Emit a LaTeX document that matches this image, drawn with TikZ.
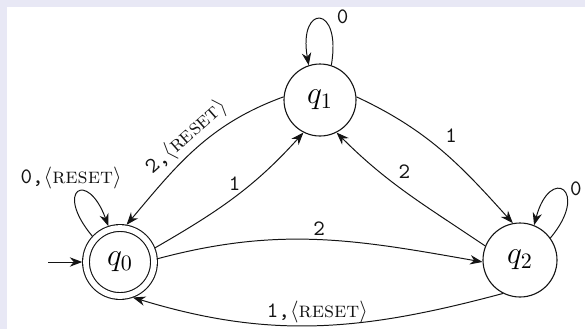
\documentclass[tikz,border=0pt]{standalone}
\usepackage{tikz}
\usetikzlibrary{arrows.meta, positioning, calc}
\definecolor{framelav}{HTML}{E8E8F5}
\definecolor{inkdark}{HTML}{141414}
\tikzset{
  stnode/.style={circle, draw=inkdark, line width=0.5pt, inner sep=0pt, font=\Large},
  acc/.style={double, double distance=2.6pt, outer sep=1.7pt},
  trans/.style={-{Stealth[length=2mm, width=1.5mm]}, line width=0.45pt, color=inkdark},
  lbl/.style={font=\normalsize, text=inkdark, inner sep=1.5pt},
}
\newcommand{\rst}{$\langle$\textsc{reset}$\rangle$}

\begin{document}
\begin{tikzpicture}[x=1cm, y=1cm]
  \fill[framelav] (0,0) rectangle (9.36,5.264);
  \fill[white] (0.112,0) rectangle (9.36,5.152);
  \useasboundingbox (0,0) rectangle (9.36,5.264);
  % states
  \node[stnode, acc, minimum size=1.088cm] (q0) at (1.92,1.072) {$q_0$};
  \node[stnode, minimum size=1.152cm] (q1) at (5.12,3.664) {$q_1$};
  \node[stnode, minimum size=1.184cm] (q2) at (8.32,1.104) {$q_2$};
  \coordinate (start) at (0.768,1.072);
  \draw[trans] (start) -- (q0);
  % self loops
  \draw[trans] (q0.137) .. controls +(130:0.97cm) and +(110:0.97cm) .. (q0.108)
    node[lbl, pos=0.5, above, xshift=-0.11cm] {\texttt{0,}\rst};
  \draw[trans] (q1.72) .. controls +(80:1cm) and +(100:1cm) .. (q1.108)
    node[lbl, pos=0.3, above right, inner sep=1pt, xshift=0.08cm] {\texttt{0}};
  \draw[trans] (q2.36) .. controls +(50:1cm) and +(75:1cm) .. (q2.68)
    node[lbl, pos=0.35, above right, inner sep=1pt] {\texttt{0}};
  % transitions
  \draw[trans] (q0.22) to[out=30, in=228] node[lbl, pos=0.5, above, yshift=0.05cm] {\texttt{1}} (q1.243);
  \draw[trans] (q1.175) to[out=200, in=50] node[lbl, pos=0.5, sloped, above] {\texttt{2,}\rst} (q0.80);
  \draw[trans] (q1.5) to[out=-25, in=132] node[lbl, pos=0.5, above right, yshift=0.06cm] {\texttt{1}} (q2.101);
  \draw[trans] (q2.158) to[out=146, in=-45] node[lbl, pos=0.6, above right, inner sep=2pt] {\texttt{2}} (q1.297);
  \draw[trans] (q0.5) to[out=15, in=170] node[lbl, above] {\texttt{2}} (q2.183);
  \draw[trans] (q2.243) to[out=195, in=-17] node[lbl, above, inner sep=1pt] {\texttt{1,}\rst} (q0.290);
\end{tikzpicture}
\end{document}
